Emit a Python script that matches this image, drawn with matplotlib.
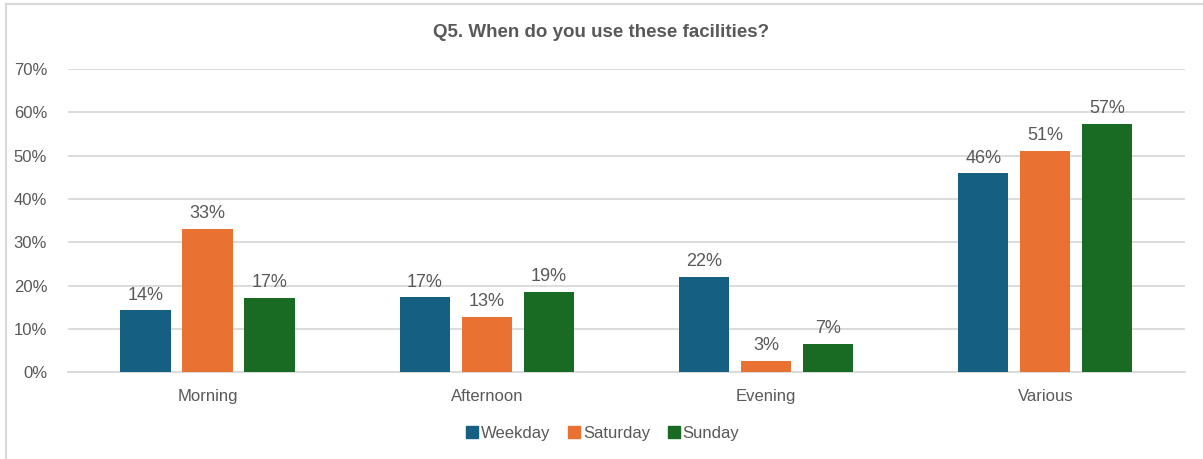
import numpy as np
import matplotlib.pyplot as plt
from matplotlib.lines import Line2D

plt.rcParams['font.family'] = ['Liberation Sans', 'DejaVu Sans']

categories = ['Morning', 'Afternoon', 'Evening', 'Various']
series = ['Weekday', 'Saturday', 'Sunday']
weekday = [0.143, 0.173, 0.221, 0.459]
saturday = [0.332, 0.127, 0.026, 0.510]
sunday = [0.171, 0.186, 0.066, 0.573]
colors = ['#156082', '#E97132', '#196B24']

txt = '#595959'
grid = '#D9D9D9'

fig = plt.figure(figsize=(12.03, 4.59), dpi=100)
ax = fig.add_axes([0.0565, 0.1885, 0.9285, 0.6612])

x = np.arange(len(categories))
w = 0.18
step = 0.222
for i, (vals, c, name) in enumerate(zip([weekday, saturday, sunday], colors, series)):
    pos = x + (i - 1) * step
    bars = ax.bar(pos, vals, width=w, color=c, label=name, zorder=3)
    for b, v in zip(bars, vals):
        ax.annotate(f'{v:.0%}', (b.get_x() + b.get_width() / 2, v),
                    xytext=(0, 5), textcoords='offset points',
                    ha='center', va='bottom', fontsize=13, color=txt)

ax.set_xlim(-0.5, len(categories) - 0.5)
ax.set_ylim(0, 0.7)
ax.set_yticks(np.arange(0, 0.71, 0.1))
ax.set_yticklabels([f'{int(round(t * 100))}%' for t in np.arange(0, 0.71, 0.1)])
ax.set_xticks(x)
ax.set_xticklabels(categories)
ax.tick_params(axis='y', length=0, pad=15, labelsize=12, labelcolor=txt)
ax.tick_params(axis='x', length=0, pad=12, labelsize=12, labelcolor=txt)
ax.grid(axis='y', color=grid, linewidth=1.3, zorder=0)
for s in ['top', 'right', 'left']:
    ax.spines[s].set_visible(False)
ax.spines['bottom'].set_color(grid)
ax.spines['bottom'].set_linewidth(1.3)

fig.text(0.5, 0.93, 'Q5. When do you use these facilities?', ha='center', va='center',
         fontsize=13.5, fontweight='bold', color=txt)

handles = [Line2D([], [], marker='s', linestyle='', markersize=8, color=c) for c in colors]
fig.legend(handles, series, loc='center', bbox_to_anchor=(0.5, 0.055), ncol=3,
           frameon=False, fontsize=12, labelcolor=txt, handletextpad=0.05,
           columnspacing=0.9, handlelength=1.0)

# chart frame edges visible in the crop
fig.add_artist(Line2D([0.005, 0.005], [0, 0.991], color='#D9D9D9', linewidth=1.5))
fig.add_artist(Line2D([0.005, 1.0], [0.991, 0.991], color='#D9D9D9', linewidth=1.5))

fig.savefig('out.png', dpi=100)
